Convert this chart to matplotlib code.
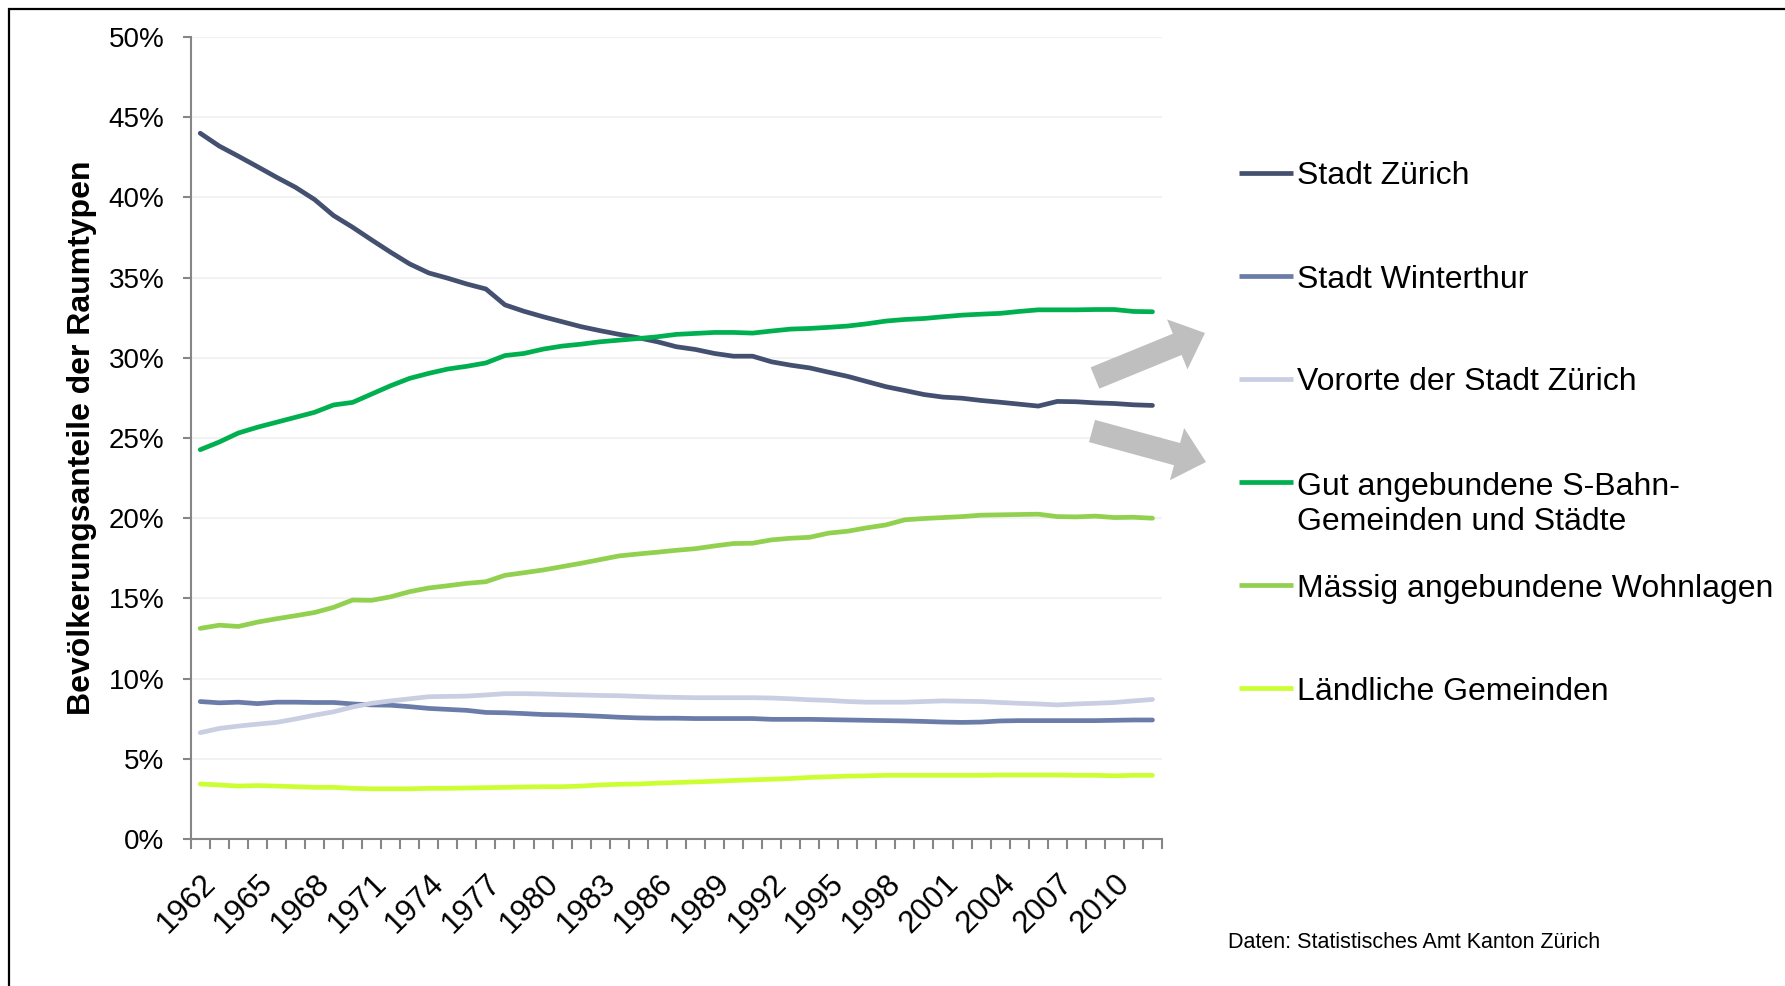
import numpy as np
import matplotlib
matplotlib.use("Agg")
import matplotlib.pyplot as plt
from matplotlib.lines import Line2D
from matplotlib.patches import FancyArrow, Rectangle
from matplotlib.transforms import IdentityTransform

plt.rcParams['font.family'] = ['Liberation Sans', 'DejaVu Sans']

# Jahre (Kategorien)
years = list(range(1962, 2013))
year_labels = [str(y) if (y - 1962) % 3 == 0 else '' for y in years]

# Bevölkerungsanteile in %
stadt_zuerich = [44.0, 43.2, 42.57, 41.92, 41.26, 40.63, 39.87, 38.87, 38.14, 37.35, 36.58, 35.85,
                 35.29, 34.96, 34.6, 34.29, 33.3, 32.9, 32.56, 32.25, 31.94, 31.69, 31.46, 31.25,
                 31.0, 30.69, 30.52, 30.27, 30.1, 30.1, 29.75, 29.54, 29.37, 29.1, 28.84, 28.52,
                 28.2, 27.96, 27.71, 27.55, 27.48, 27.34, 27.23, 27.11, 26.99, 27.28, 27.26,
                 27.19, 27.15, 27.07, 27.03]
stadt_winterthur = [8.57, 8.49, 8.53, 8.44, 8.53, 8.53, 8.51, 8.51, 8.42, 8.36, 8.34, 8.25, 8.14,
                    8.08, 8.02, 7.89, 7.87, 7.82, 7.76, 7.74, 7.7, 7.65, 7.59, 7.55, 7.53, 7.53,
                    7.51, 7.51, 7.51, 7.51, 7.46, 7.46, 7.46, 7.44, 7.42, 7.4, 7.38, 7.36, 7.33,
                    7.29, 7.27, 7.29, 7.36, 7.38, 7.38, 7.38, 7.38, 7.38, 7.4, 7.42, 7.42]
vororte = [6.63, 6.89, 7.04, 7.16, 7.27, 7.48, 7.72, 7.93, 8.23, 8.46, 8.61, 8.74, 8.87, 8.89,
           8.91, 8.98, 9.06, 9.06, 9.04, 9.0, 8.98, 8.95, 8.93, 8.89, 8.85, 8.83, 8.81, 8.81,
           8.81, 8.81, 8.79, 8.74, 8.68, 8.64, 8.57, 8.53, 8.53, 8.53, 8.57, 8.61, 8.59, 8.57,
           8.51, 8.46, 8.42, 8.36, 8.42, 8.46, 8.51, 8.61, 8.7]
gut_angebunden = [24.27, 24.75, 25.31, 25.67, 25.98, 26.29, 26.6, 27.06, 27.22, 27.74, 28.26,
                  28.72, 29.03, 29.3, 29.47, 29.68, 30.14, 30.27, 30.54, 30.73, 30.85, 31.0,
                  31.1, 31.2, 31.31, 31.46, 31.52, 31.58, 31.58, 31.54, 31.67, 31.79, 31.83,
                  31.9, 31.98, 32.12, 32.29, 32.39, 32.45, 32.56, 32.66, 32.72, 32.77, 32.89,
                  32.99, 32.99, 32.99, 33.01, 33.01, 32.89, 32.87]
maessig_angebunden = [13.13, 13.33, 13.25, 13.52, 13.73, 13.92, 14.12, 14.44, 14.9, 14.88, 15.1,
                      15.42, 15.65, 15.79, 15.94, 16.04, 16.44, 16.6, 16.77, 16.98, 17.19,
                      17.42, 17.65, 17.77, 17.88, 18.0, 18.1, 18.27, 18.42, 18.44, 18.65, 18.75,
                      18.81, 19.07, 19.19, 19.4, 19.58, 19.9, 19.98, 20.04, 20.1, 20.19, 20.21,
                      20.23, 20.25, 20.1, 20.08, 20.13, 20.04, 20.06, 20.0]
laendlich = [3.43, 3.37, 3.3, 3.33, 3.3, 3.26, 3.22, 3.22, 3.16, 3.13, 3.13, 3.13, 3.16, 3.16,
             3.18, 3.2, 3.22, 3.24, 3.26, 3.26, 3.3, 3.37, 3.41, 3.43, 3.48, 3.52, 3.56, 3.6,
             3.65, 3.69, 3.73, 3.77, 3.84, 3.88, 3.92, 3.94, 3.97, 3.97, 3.97, 3.97, 3.97, 3.97,
             3.99, 3.99, 3.99, 3.99, 3.97, 3.97, 3.94, 3.97, 3.97]

series_names = ['Stadt Zürich', 'Stadt Winterthur', 'Vororte der Stadt Zürich',
                'Gut angebundene S-Bahn-\nGemeinden und Städte',
                'Mässig angebundene Wohnlagen', 'Ländliche Gemeinden']
series_values = [stadt_zuerich, stadt_winterthur, vororte, gut_angebunden,
                 maessig_angebunden, laendlich]
colors = ['#44506F', '#6C7CA9', '#C9CEE2', '#00B050', '#92D050', '#CCFF33']

W, H = 1785, 986
fig = plt.figure(figsize=(W / 100, H / 100), dpi=100)
ax = fig.add_axes([190.7 / W, 1 - 839 / H, 971.3 / W, 802 / H])

x = np.arange(len(years))
for vals, col in zip(series_values, colors):
    ax.plot(x, np.array(vals) / 100, color=col, lw=3.4,
            solid_capstyle='round', solid_joinstyle='round')

# axes styling
ax.set_xlim(-0.5, len(years) - 0.5)
ax.set_ylim(0, 0.5)
yt = np.arange(0, 0.51, 0.05)
ax.set_yticks(yt)
ax.set_yticklabels([f'{int(round(v * 100))}%' for v in yt])
ax.grid(axis='y', color='#F2F2F2', lw=1.5)
ax.set_axisbelow(True)
for s in ['top', 'right']:
    ax.spines[s].set_visible(False)
for s in ['left', 'bottom']:
    ax.spines[s].set_color('#868686')
    ax.spines[s].set_linewidth(1.5)

ax.set_xticks(x)
ax.set_xticklabels(year_labels, rotation=45, ha='right', va='top',
                   rotation_mode='anchor', fontsize=22.5)
ax.tick_params(axis='x', which='major', length=0, pad=21)
ax.set_xticks(np.arange(-0.5, len(years)), minor=True)
ax.tick_params(axis='x', which='minor', length=7, width=1.5, color='#868686')
ax.tick_params(axis='y', length=6, width=1.5, color='#868686', labelsize=20, pad=13)

fig.text(82 / W, 1 - 438 / H, 'Bevölkerungsanteile der Raumtypen', rotation=90,
         ha='center', va='center', fontsize=23, fontweight='bold')

# Legende von Hand: Linie auf Höhe der ersten Textzeile
leg_y0, leg_dy, line_h = 173, 103, 36.4
for k, (name, col) in enumerate(zip(series_names, colors)):
    yc = leg_y0 + k * leg_dy
    yf = 1 - yc / H
    fig.add_artist(Line2D([1239 / W, 1293 / W], [yf, yf], color=col, lw=3.4,
                          solid_capstyle='butt'))
    extra = (name.count('\n')) * line_h
    fig.text(1297 / W, 1 - (yc + 11.5 + extra) / H, name, ha='left', va='baseline',
             fontsize=23, linespacing=1.2)

# graue Pfeile
arrow_kw = dict(width=23, head_width=54, head_length=30, length_includes_head=True,
                color='#BFBFBF', lw=0, transform=IdentityTransform())
fig.add_artist(FancyArrow(1095, H - 378, 110, 45, **arrow_kw))
fig.add_artist(FancyArrow(1092, H - 431, 114, -31, **arrow_kw))

fig.text(1228 / W, 1 - 942 / H, 'Daten: Statistisches Amt Kanton Zürich',
         ha='left', va='center', fontsize=15.5)

# Rahmen
fig.add_artist(Rectangle((9 / W, -0.1), 1.2, 1 - 9 / H + 0.1, transform=fig.transFigure,
                         fill=False, edgecolor='black', lw=1.6))

fig.savefig('out.png', dpi=100)
